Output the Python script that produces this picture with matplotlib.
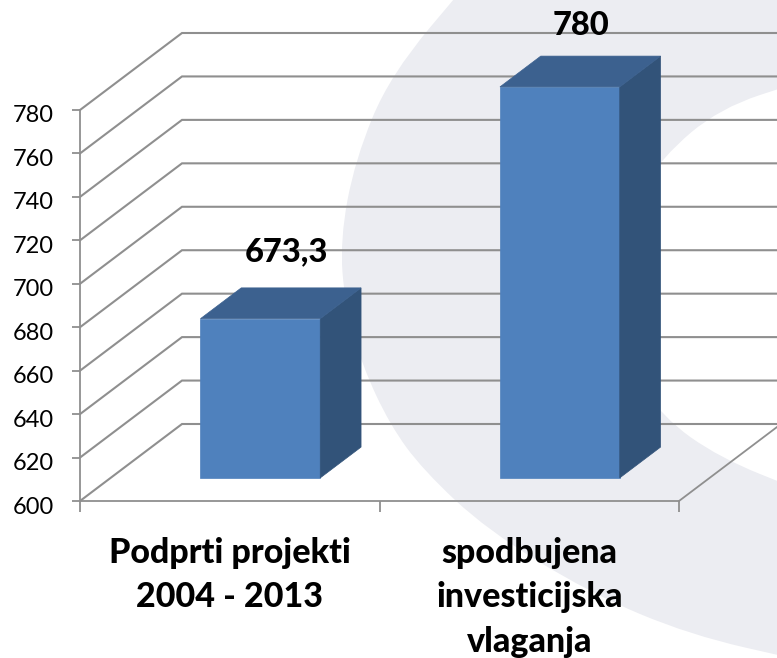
import matplotlib
matplotlib.use('Agg')
import matplotlib.pyplot as plt
from matplotlib.patches import Polygon, PathPatch
from matplotlib.path import Path
from matplotlib.transforms import ScaledTranslation

plt.rcParams['font.family'] = ['Lato', 'DejaVu Sans']

# data
categories = ['Podprti projekti\n2004 - 2013', 'spodbujena\ninvesticijska\nvlaganja']
values = [673.3, 780]
value_labels = ['673,3', '780']
yticks = [600, 620, 640, 660, 680, 700, 720, 740, 760, 780]

W, H = 777, 658
GRID = '#8f8f8f'

# background swoosh, traced in pixels
outer = [(470, -20), (390, 75), (355, 160), (340, 240), (345, 305), (362, 365), (390, 425), (423, 470),
         (487, 530), (590, 593), (690, 635), (800, 660)]
inner = [(800, 82), (720, 108), (662, 157), (625, 215), (612, 290), (625, 360), (662, 417), (720, 458), (800, 490)]


def smooth_path(pts):
    verts = [pts[0]]
    codes = [Path.MOVETO]
    for a, b in zip(pts[:-1], pts[1:]):
        verts += [a, ((a[0] + b[0]) / 2, (a[1] + b[1]) / 2)]
        codes += [Path.CURVE3, Path.CURVE3]
    verts.append(pts[-1])
    codes.append(Path.LINETO)
    return verts, codes


fig = plt.figure(figsize=(W / 100, H / 100), dpi=100)
bg = fig.add_axes([0, 0, 1, 1])
bg.set_xlim(0, W)
bg.set_ylim(H, 0)
bg.axis('off')
v1, c1 = smooth_path(outer)
v2, c2 = smooth_path(inner[::-1])
verts = v1 + [(800, 660), (800, 490)] + v2[1:] + [(800, -20), (470, -20)]
codes = c1 + [Path.LINETO, Path.LINETO] + c2[1:] + [Path.LINETO, Path.LINETO]
bg.add_patch(PathPatch(Path(verts, codes), fc='#ecedf2', ec='none'))

ax = fig.add_axes([80 / W, (H - 501) / H, 599 / W, 391 / H])
ax.patch.set_alpha(0)
ax.set_xlim(0, 2)
ax.set_ylim(600, 780)
for name in ['top', 'right']:
    ax.spines[name].set_visible(False)
for name in ['left', 'bottom']:
    ax.spines[name].set_color(GRID)
    ax.spines[name].set_linewidth(1.3)

# depth of the fake 3d box, in data units
dx = 102 / 299.5
dy = 77 / (391 / 180)

for y in yticks:
    ax.plot([0, dx, 2.5], [y, y + dy, y + dy], color=GRID, lw=1.5, clip_on=False, zorder=1,
            solid_joinstyle='miter')
ax.plot([2, 2 + dx], [600, 600 + dy], color=GRID, lw=1.3, clip_on=False, zorder=1)

# bars sit from 0.3 to 0.7 of the depth
for i, v in enumerate(values):
    x0 = i + 0.3 + 0.3 * dx
    x1 = x0 + 0.4
    y0 = 600 + 0.3 * dy
    y1 = v + 0.3 * dy
    ddx = 0.4 * dx
    ddy = 0.4 * dy
    ax.add_patch(Polygon([(x0, y0), (x1, y0), (x1, y1), (x0, y1)], fc='#4f81bd', ec='#4f81bd', lw=0.5,
                         clip_on=False, zorder=3))
    ax.add_patch(Polygon([(x1, y0), (x1 + ddx, y0 + ddy), (x1 + ddx, y1 + ddy), (x1, y1)], fc='#325379',
                         ec='#325379', lw=0.5, clip_on=False, zorder=3))
    ax.add_patch(Polygon([(x0, y1), (x1, y1), (x1 + ddx, y1 + ddy), (x0 + ddx, y1 + ddy)], fc='#3c618f',
                         ec='#3c618f', lw=0.5, clip_on=False, zorder=3))

label_shift = [(26, 36), (21, 31)]
for i, v in enumerate(values):
    ax.annotate(value_labels[i], (i + 0.5 + 0.3 * dx, v + 0.7 * dy),
                xytext=(label_shift[i][0] * 0.72, label_shift[i][1] * 0.72),
                textcoords='offset points', ha='center', va='center', fontsize=23.5, fontweight='black',
                annotation_clip=False, zorder=5)

ax.set_yticks(yticks)
ax.tick_params(axis='y', length=5.8, width=1.3, color=GRID, labelsize=17, pad=13, labelcolor='black')
shift_down = ScaledTranslation(0, -4 / 100, fig.dpi_scale_trans)
for lab in ax.get_yticklabels():
    lab.set_transform(lab.get_transform() + shift_down)
ax.set_xticks([0, 1, 2])
ax.set_xticklabels(['', '', ''])
ax.tick_params(axis='x', which='major', length=8, width=1.3, color=GRID)
ax.set_xticks([0.5, 1.5], minor=True)
ax.set_xticklabels(categories, minor=True, fontsize=24.5, fontweight='black', linespacing=1.47)
ax.tick_params(axis='x', which='minor', length=0, pad=26)

fig.savefig('out.png', dpi=100)
